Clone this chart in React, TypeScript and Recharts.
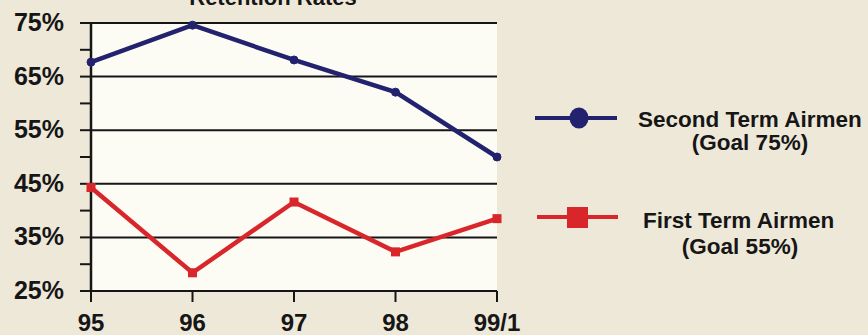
import React from "react";
import { LineChart, Line, XAxis, YAxis, CartesianGrid, ReferenceLine } from "recharts";

const years = ["95", "96", "97", "98", "99/1"];
const secondTerm = [67.7, 74.6, 68.1, 62.1, 50.0];
const firstTerm = [44.3, 28.4, 41.6, 32.3, 38.5];
const yTicks = [25, 30, 35, 40, 45, 50, 55, 60, 65, 70, 75];
const gridValues = [25, 35, 45, 55, 65, 75];
const labeledTicks = [25, 35, 45, 55, 65, 75];
const legendItems = [
  { name: "Second Term Airmen", goal: "(Goal 75%)" },
  { name: "First Term Airmen", goal: "(Goal 55%)" },
];

const data = years.map((y, i) => ({ year: y, second: secondTerm[i], first: firstTerm[i] }));

const FONT = "'Liberation Sans', Arial, Helvetica, sans-serif";
const NAVY = "#23226e";
const RED = "#d8262b";
const INK = "#161616";

const YTick = (props: any) => {
  const { x, y, payload } = props;
  if (!labeledTicks.includes(payload.value)) return null;
  return (
    <text x={x - 14} y={y + 8} textAnchor="end" fontFamily={FONT} fontWeight="bold" fontSize={25} fill={INK}>
      {payload.value}%
    </text>
  );
};

const XTick = (props: any) => {
  const { x, y, payload } = props;
  return (
    <text x={x} y={y + 27} textAnchor="middle" fontFamily={FONT} fontWeight="bold" fontSize={24} fill={INK}>
      {payload.value}
    </text>
  );
};

const SquareDot = (props: any) => {
  const { cx, cy } = props;
  if (cx == null || cy == null) return null;
  return <rect x={cx - 4.5} y={cy - 4.5} width={9} height={9} fill={RED} />;
};

const LegendBox = () => (
  <svg width={868} height={335} style={{ position: "absolute", left: 0, top: 0, pointerEvents: "none" }}>
    <line x1={535} y1={118} x2={617} y2={118} stroke={NAVY} strokeWidth={4} />
    <ellipse cx={579} cy={118} rx={9.5} ry={10.5} fill={NAVY} />
    <text x={638} y={127} fontFamily={FONT} fontWeight="bold" fontSize={22.5} fill={INK}>{legendItems[0].name}</text>
    <text x={750} y={150} textAnchor="middle" fontFamily={FONT} fontWeight="bold" fontSize={22.5} fill={INK}>{legendItems[0].goal}</text>
    <line x1={537} y1={217} x2={618} y2={217} stroke={RED} strokeWidth={4} />
    <rect x={567} y={207} width={21} height={21} fill={RED} />
    <text x={643} y={228} fontFamily={FONT} fontWeight="bold" fontSize={22.5} fill={INK}>{legendItems[1].name}</text>
    <text x={740} y={254} textAnchor="middle" fontFamily={FONT} fontWeight="bold" fontSize={22.5} fill={INK}>{legendItems[1].goal}</text>
    <text x={273} y={5} textAnchor="middle" fontFamily={FONT} fontWeight="bold" fontSize={22} fill={INK}>Retention Rates</text>
  </svg>
);

export default function App() {
  return (
    <div style={{ position: "absolute", left: 0, top: 0, width: 868, height: 335, background: "#eee8d9", overflow: "hidden" }}>
      <LineChart width={868} height={335} data={data} margin={{ top: 23, right: 371, bottom: 0, left: 0 }}>
        <CartesianGrid fill="#fcfbf4" horizontal={false} vertical={false} stroke="none" />
        {gridValues.map((v) => (
          <ReferenceLine key={v} y={v} stroke={INK} strokeWidth={2} ifOverflow="extendDomain" />
        ))}
        <XAxis
          dataKey="year"
          height={44}
          tickSize={11}
          tickLine={{ stroke: INK, strokeWidth: 2 }}
          axisLine={false}
          tick={<XTick />}
          interval={0}
        />
        <YAxis
          width={91}
          domain={[25, 75]}
          ticks={yTicks}
          type="number"
          tickSize={11}
          tickLine={{ stroke: INK, strokeWidth: 2 }}
          axisLine={{ stroke: INK, strokeWidth: 2.5 }}
          tick={<YTick />}
          interval={0}
        />
        <Line
          dataKey="second"
          stroke={NAVY}
          strokeWidth={4.5}
          dot={{ r: 4, fill: NAVY, stroke: NAVY, strokeWidth: 1 }}
          isAnimationActive={false}
        />
        <Line
          dataKey="first"
          stroke={RED}
          strokeWidth={4.5}
          dot={<SquareDot />}
          isAnimationActive={false}
        />
      </LineChart>
      <LegendBox />
    </div>
  );
}
